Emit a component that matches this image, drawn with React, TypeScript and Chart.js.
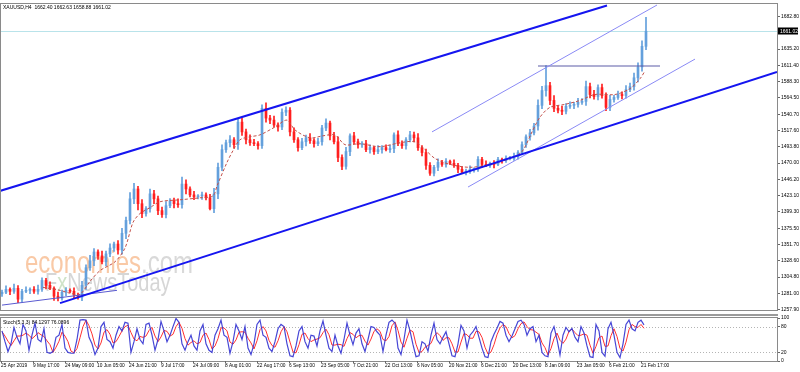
import React, { useEffect, useRef } from "react";
import { Chart, registerables } from "chart.js";
Chart.register(...registerables);

// ---------- DATA ----------
const symbolTitle = "XAUUSD,H4";
const lastOHLC = [1662.4, 1662.63, 1658.88, 1661.02];
const bidPrice = 1661.02;
const stochTitle = "Stoch(5,3,3)";
const stochLast = [84.1297, 76.0896];

const firstOpen = 1280.5;
const closes = [
  1282.7, 1287.0, 1284.1, 1288.4, 1272.7, 1284.1, 1285.5, 1287.0, 1284.1, 1287.0,
  1299.8, 1292.7, 1288.4, 1277.0, 1274.1, 1282.7, 1285.5, 1284.1, 1278.4, 1275.6,
  1292.7, 1318.3, 1328.3, 1341.1, 1335.4, 1326.9, 1338.3, 1346.8, 1352.6, 1344.0,
  1368.2, 1386.8, 1418.1, 1432.4, 1411.0, 1396.8, 1403.9, 1425.3, 1418.1, 1401.0,
  1395.3, 1408.2, 1415.3, 1411.0, 1409.6, 1439.5, 1432.4, 1423.8, 1421.0, 1422.4,
  1423.8, 1419.6, 1403.9, 1425.3, 1463.8, 1489.4, 1499.4, 1503.7, 1496.6, 1529.3,
  1515.1, 1503.7, 1499.4, 1498.0, 1495.1, 1549.3, 1535.1, 1532.2, 1525.1, 1522.2,
  1543.6, 1546.5, 1515.1, 1503.7, 1492.3, 1500.8, 1506.5, 1502.3, 1498.0, 1500.8,
  1520.8, 1527.9, 1509.4, 1500.8, 1478.0, 1465.2, 1486.6, 1509.4, 1500.8, 1496.6,
  1498.0, 1489.4, 1492.3, 1486.6, 1489.4, 1492.3, 1489.4, 1490.9, 1510.8, 1498.0,
  1495.1, 1503.7, 1510.8, 1506.5, 1492.3, 1485.2, 1466.6, 1455.2, 1463.8, 1470.9,
  1468.0, 1472.3, 1469.5, 1466.6, 1460.9, 1456.6, 1458.1, 1460.9, 1460.9, 1475.2,
  1468.0, 1466.6, 1469.5, 1468.0, 1475.2, 1473.7, 1476.6, 1476.6, 1479.4, 1485.2,
  1496.6, 1508.0, 1513.7, 1523.6, 1553.6, 1575.0, 1582.1, 1560.7, 1549.3, 1546.5,
  1545.0, 1552.2, 1553.6, 1555.0, 1557.9, 1559.3, 1580.7, 1569.3, 1566.4, 1579.3,
  1567.8, 1550.7, 1562.1, 1565.0, 1569.3, 1567.8, 1576.4, 1580.7, 1593.5, 1609.2,
  1639.1, 1661.0,
];
// wick lengths above the body top / below the body bottom (USD)
const upperWick = [
  3, 5, 2, 6, 4, 3, 5, 2, 4, 6,
  4, 3, 5, 2, 6, 3, 4, 2, 5, 3,
  6, 4, 8, 5, 3, 7, 4, 6, 3, 5,
  7, 5, 9, 8, 4, 6, 3, 7, 5, 4,
  5, 6, 3, 4, 7, 10, 6, 3, 5, 2,
  4, 3, 5, 8, 6, 7, 4, 6, 3, 4,
  6, 4, 7, 5, 3, 5, 8, 4, 6, 3,
  5, 5, 4, 6, 3, 5, 4, 6, 3, 5,
  4, 6, 3, 5, 7, 4, 6, 3, 5, 4,
  3, 5, 4, 2, 6, 3, 4, 5, 3, 6,
  4, 3, 5, 4, 6, 3, 5, 4, 3, 5,
  3, 4, 2, 5, 3, 4, 3, 5, 2, 4,
  3, 5, 2, 4, 3, 2, 4, 3, 5, 3,
  4, 3, 5, 4, 8, 6, 29, 5, 7, 4,
  6, 4, 5, 3, 6, 4, 8, 5, 6, 4,
  5, 4, 6, 3, 5, 4, 6, 5, 7, 6,
  8, 20,
];
const lowerWick = [
  4, 2, 5, 3, 5, 4, 2, 5, 3, 4,
  3, 5, 2, 6, 4, 3, 5, 2, 4, 3,
  5, 6, 4, 7, 5, 3, 6, 4, 5, 6,
  6, 8, 5, 7, 9, 6, 4, 5, 7, 6,
  4, 5, 3, 6, 4, 5, 7, 3, 4, 3,
  5, 3, 2, 6, 7, 5, 4, 6, 5, 7,
  5, 6, 4, 3, 5, 4, 6, 5, 3, 6,
  4, 5, 6, 4, 5, 3, 6, 4, 5, 3,
  5, 4, 6, 3, 6, 5, 4, 6, 3, 5,
  4, 3, 5, 4, 3, 5, 2, 4, 6, 3,
  4, 5, 3, 6, 4, 5, 6, 3, 4, 5,
  3, 4, 2, 3, 5, 2, 4, 3, 4, 3,
  4, 2, 3, 5, 2, 4, 3, 2, 3, 4,
  3, 4, 5, 3, 6, 5, 8, 6, 5, 4,
  5, 4, 3, 5, 4, 3, 6, 5, 4, 5,
  4, 5, 5, 4, 3, 5, 4, 3, 5, 6,
  6, 5,
];

const maIndex = [10.25, 14.5, 17, 19.5, 22, 24.5, 28.25, 30.75, 32.75, 34.5, 37, 39.5, 44.5, 49.5, 52.75,
  53.75, 56.25, 57.75, 59.5, 62, 64.5, 68.25, 71.25, 73.25, 77, 80.25, 83.25, 85.75, 89.5, 94.5,
  99.5, 103.25, 105.75, 108.25, 112, 117, 122, 127, 130, 132.5, 134.5, 137, 140.75, 144.5, 148.25,
  153.25, 157, 159.5, 160.75];
const maValue = [1289.8, 1285.5, 1281.3, 1279.8, 1298.4, 1314.1, 1326.9, 1346.8, 1383.9, 1396.8, 1405.3, 1413.9, 1416.7, 1419.6, 1422.4,
  1436.7, 1470.9, 1488.0, 1503.7, 1508.0, 1510.8, 1522.2, 1532.2, 1517.9, 1506.5, 1509.4, 1510.8, 1496.6, 1498.0, 1493.7,
  1499.4, 1500.8, 1489.4, 1476.6, 1468.0, 1463.8, 1468.0, 1476.6, 1486.6, 1515.1, 1536.5, 1550.7, 1555.0, 1560.7, 1569.3,
  1569.3, 1577.8, 1592.1, 1603.5];

const stochMain = [
  70, 45, 22, 40, 78, 55, 40, 85, 70, 25, 60, 88, 50, 45, 75, 20, 18, 22, 55, 60,
  85, 30, 20, 18, 18, 50, 95, 96, 95, 55, 40, 15, 30, 80, 90, 50, 45, 30, 60, 80,
  70, 90, 88, 20, 45, 75, 50, 40, 85, 88, 60, 25, 50, 92, 70, 45, 60, 80, 99, 90,
  40, 25, 45, 60, 35, 25, 70, 85, 40, 25, 20, 60, 75, 95, 60, 55, 18, 45, 85, 70,
  50, 80, 30, 15, 40, 85, 95, 60, 55, 30, 22, 45, 75, 85, 80, 40, 12, 10, 35, 70,
  80, 45, 30, 60, 58, 35, 70, 93, 60, 30, 22, 60, 35, 18, 50, 88, 60, 38, 65, 75,
  40, 22, 50, 80, 78, 68, 60, 22, 60, 90, 95, 88, 30, 15, 50, 95, 70, 38, 10, 12,
  45, 40, 23, 60, 88, 50, 40, 55, 68, 40, 12, 10, 40, 83, 70, 30, 60, 68, 80, 55,
  30, 10, 8, 45, 62, 76, 92, 88, 60, 45, 58, 75, 92, 95, 85, 60, 75, 80, 45, 60,
  20, 12, 10, 65, 80, 50, 14, 60, 78, 68, 76, 55, 45, 80, 65, 35, 10, 8, 85, 70,
  20, 11, 75, 90, 60, 20, 8, 40, 85, 95, 75, 70, 90, 95, 84,
];
const stochSignal = [
  68, 58, 46, 36, 47, 58, 58, 60, 65, 60, 52, 58, 66, 61, 57, 47, 38, 20, 32, 46,
  67, 58, 45, 23, 19, 29, 54, 80, 95, 82, 63, 37, 28, 42, 67, 73, 62, 42, 45, 57,
  70, 80, 83, 66, 51, 47, 57, 55, 58, 71, 78, 58, 45, 56, 71, 69, 58, 62, 80, 90,
  76, 52, 37, 43, 47, 40, 43, 60, 65, 50, 28, 35, 52, 77, 77, 70, 44, 39, 49, 67,
  68, 67, 53, 42, 28, 47, 73, 80, 70, 48, 36, 32, 47, 68, 80, 68, 44, 21, 19, 38,
  62, 65, 52, 45, 49, 51, 54, 66, 74, 61, 37, 37, 39, 38, 34, 52, 66, 62, 54, 59,
  60, 46, 37, 51, 69, 75, 69, 50, 47, 57, 82, 91, 71, 44, 32, 53, 72, 68, 39, 20,
  22, 32, 36, 41, 57, 66, 59, 48, 54, 54, 40, 21, 21, 44, 64, 61, 53, 53, 69, 68,
  55, 32, 16, 21, 38, 61, 77, 85, 80, 64, 54, 59, 75, 87, 91, 80, 73, 72, 67, 62,
  42, 31, 14, 29, 52, 65, 48, 41, 51, 69, 74, 66, 59, 60, 63, 60, 37, 18, 34, 54,
  58, 34, 35, 59, 75, 57, 29, 23, 44, 73, 85, 80, 78, 85, 76,
];
const stochBarsPerSample = 0.75; // stochastic sampled 3 bars per 4 candles

const priceTicks = [1257.9, 1281.0, 1304.8, 1328.6, 1351.7, 1375.5, 1399.3, 1423.1, 1446.2, 1470.0,
  1493.8, 1517.6, 1540.7, 1564.5, 1588.3, 1611.4, 1635.2, 1682.8];
const stochTicks = [0, 20, 80, 100];
const stochLevels = [20, 80];
const timeTickIndex = [0, 8, 16, 24, 32, 40, 48, 56, 64, 72, 80, 88, 96, 104, 112, 120, 128, 136, 144, 152, 160];
const timeTickLabels = ["25 Apr 2019", "9 May 17:00", "24 May 09:00", "10 Jun 05:00", "24 Jun 21:00", "9 Jul 17:00",
  "24 Jul 09:00", "8 Aug 01:00", "22 Aug 17:00", "6 Sep 13:00", "23 Sep 05:00", "7 Oct 21:00", "22 Oct 13:00",
  "6 Nov 05:00", "20 Nov 21:00", "6 Dec 21:00", "20 Dec 13:00", "8 Jan 09:00", "23 Jan 05:00", "6 Feb 21:00", "21 Feb 17:00"];

// drawn objects (bar index, price)
const upperChannelIdx = [-0.5, 151.25];
const upperChannelPrice = [1429.5, 1698.3];
const lowerChannelIdx = [14.5, 193.75];
const lowerChannelPrice = [1267.0, 1602.1];
const supportIdx = [0, 28.75];
const supportPrice = [1264.1, 1285.5];
const risingTopIdx = [107.5, 163.75];
const risingTopPrice = [1515.1, 1699.0];
const risingBottomIdx = [116.5, 173.25];
const risingBottomPrice = [1435.2, 1620.6];
const resistanceIdx = [134, 164.5];
const resistancePrice = [1610.6, 1610.6];

// ---------- STYLE ----------
const X_MIN = -0.25;
const X_MAX = 193.75;
const Y_MIN = 1257.0;
const Y_MAX = 1700.45;
const UP = "#64a0dc";
const DOWN = "#ff1f1f";
const FONT = "Liberation Sans";
const FS = 5;
const FS_X = 4.8;
const AXIS_W = 23;

const opens = closes.map((c, i) => (i === 0 ? firstOpen : closes[i - 1]));

function seg(xs: number[], ys: number[], color: string, width: number) {
  return {
    type: "line" as const,
    data: xs.map((x, i) => ({ x, y: ys[i] })),
    borderColor: color,
    borderWidth: width,
    pointRadius: 0,
    fill: false,
    order: 0,
    tension: 0,
  };
}

export default function App() {
  const priceRef = useRef<HTMLCanvasElement | null>(null);
  const stochRef = useRef<HTMLCanvasElement | null>(null);

  useEffect(() => {
    const pc = priceRef.current!;
    const sc = stochRef.current!;

    const pricePlugin = {
      id: "mtPrice",
      beforeDatasetsDraw(chart: any) {
        const { ctx, chartArea: a, scales } = chart;
        const y = scales.y;
        ctx.save();
        ctx.beginPath();
        ctx.rect(a.left, a.top, a.right - a.left, a.bottom - a.top);
        ctx.clip();
        // watermark
        ctx.textBaseline = "alphabetic";
        ctx.save();
        ctx.translate(25, 273);
        ctx.scale(0.75, 1);
        ctx.font = `32px ${FONT}`;
        ctx.fillStyle = "#f9c9a6";
        ctx.fillText("economies", 0, 0);
        const w = ctx.measureText("economies").width;
        ctx.fillStyle = "#d9d9d9";
        ctx.fillText(".com", w, 0);
        ctx.restore();
        ctx.save();
        ctx.translate(45, 291);
        ctx.scale(0.8, 1);
        ctx.font = `25px ${FONT}`;
        ctx.fillStyle = "#d6d6d6";
        ctx.fillText("F", 0, 0);
        const fw = ctx.measureText("F").width;
        ctx.fillStyle = "#cfe3c8";
        ctx.fillText("x", fw, 0);
        const xw = ctx.measureText("x").width;
        ctx.fillStyle = "#d6d6d6";
        ctx.fillText("NewsToday", fw + xw, 0);
        ctx.restore();
        // bid line
        const yy = Math.round(y.getPixelForValue(bidPrice)) + 0.5;
        ctx.strokeStyle = "#b9e3ea";
        ctx.lineWidth = 1;
        ctx.beginPath();
        ctx.moveTo(a.left, yy);
        ctx.lineTo(a.right, yy);
        ctx.stroke();
        ctx.restore();
      },
      afterDraw(chart: any) {
        const { ctx, chartArea: a, scales } = chart;
        const y = scales.y;
        ctx.save();
        ctx.strokeStyle = "#8a8a8a";
        ctx.lineWidth = 1;
        ctx.strokeRect(a.left - 0.5, a.top - 0.5, a.right - a.left + 1, a.bottom - a.top + 1);
        ctx.fillStyle = "#000";
        ctx.font = `${FS}px ${FONT}`;
        ctx.textBaseline = "middle";
        ctx.textAlign = "left";
        ctx.fillText(`${symbolTitle}  ${lastOHLC.map((v) => v.toFixed(2)).join(" ")}`, 3, 8);
        const by = y.getPixelForValue(bidPrice);
        ctx.fillStyle = "#000";
        ctx.fillRect(a.right + 1, Math.round(by) - 3.5, 20, 7);
        ctx.fillStyle = "#fff";
        ctx.fillText(bidPrice.toFixed(2), a.right + 3, by);
        ctx.restore();
      },
    };

    const priceChart = new Chart(pc, {
      type: "bar",
      data: {
        datasets: [
          seg(upperChannelIdx, upperChannelPrice, "#1515f0", 2),
          seg(lowerChannelIdx, lowerChannelPrice, "#1515f0", 2),
          seg(supportIdx, supportPrice, "#5a5ad0", 1),
          seg(risingTopIdx, risingTopPrice, "#8a8af5", 1),
          seg(risingBottomIdx, risingBottomPrice, "#8a8af5", 1),
          seg(resistanceIdx, resistancePrice, "#5c5ca8", 1.2),
          {
            type: "line" as const,
            data: maIndex.map((x, i) => ({ x, y: maValue[i] })),
            borderColor: "#c2504a",
            borderWidth: 1,
            borderDash: [3, 2],
            pointRadius: 0,
            fill: false,
            order: 1,
            tension: 0.3,
          },
          {
            type: "bar" as const,
            data: closes.map((c, i) => ({
              x: i,
              y: [Math.min(opens[i], c) - lowerWick[i], Math.max(opens[i], c) + upperWick[i]],
            })),
            backgroundColor: closes.map((c, i) => (c >= opens[i] ? UP : DOWN)),
            barThickness: 1,
            grouped: false,
            order: 3,
          } as any,
          {
            type: "bar" as const,
            data: closes.map((c, i) => ({ x: i, y: [opens[i], c] })),
            backgroundColor: closes.map((c, i) => (c >= opens[i] ? UP : DOWN)),
            barThickness: 2,
            minBarLength: 1,
            grouped: false,
            order: 2,
          } as any,
        ],
      },
      options: {
        responsive: false,
        maintainAspectRatio: false,
        animation: false,
        events: [],
        layout: { padding: { left: 1, right: 0, top: 2, bottom: 1 } },
        plugins: { legend: { display: false }, tooltip: { enabled: false }, title: { display: false } },
        scales: {
          x: { type: "linear", min: X_MIN, max: X_MAX, display: false, offset: false },
          y: {
            position: "right",
            min: Y_MIN,
            max: Y_MAX,
            afterFit: (s: any) => {
              s.width = AXIS_W;
            },
            afterBuildTicks: (s: any) => {
              s.ticks = priceTicks.map((v) => ({ value: v }));
            },
            ticks: {
              autoSkip: false,
              padding: 1,
              color: "#000",
              font: { size: FS, family: FONT },
              callback: (v: any) => Number(v).toFixed(2),
            },
            grid: { drawOnChartArea: false, tickLength: 3, color: "#666" },
            border: { color: "#8a8a8a" },
          },
        },
      },
      plugins: [pricePlugin],
    } as any);

    const stochPlugin = {
      id: "mtStoch",
      beforeDatasetsDraw(chart: any) {
        const { ctx, chartArea: a, scales } = chart;
        ctx.save();
        ctx.strokeStyle = "#b4b4b4";
        ctx.lineWidth = 1;
        ctx.setLineDash([1, 2]);
        stochLevels.forEach((lv) => {
          const yy = Math.round(scales.y.getPixelForValue(lv)) + 0.5;
          ctx.beginPath();
          ctx.moveTo(a.left, yy);
          ctx.lineTo(a.right, yy);
          ctx.stroke();
        });
        ctx.restore();
      },
      afterDraw(chart: any) {
        const { ctx, chartArea: a, scales } = chart;
        ctx.save();
        ctx.fillStyle = "#9a9a9a";
        ctx.fillRect(0, 0, a.right + 1, 2);
        ctx.strokeStyle = "#8a8a8a";
        ctx.lineWidth = 1;
        ctx.strokeRect(a.left - 0.5, a.top - 0.5, a.right - a.left + 1, a.bottom - a.top + 1);
        ctx.fillStyle = "#000";
        ctx.font = `${FS}px ${FONT}`;
        ctx.textBaseline = "middle";
        ctx.textAlign = "left";
        ctx.fillText(`${stochTitle} ${stochLast.map((v) => v.toFixed(4)).join(" ")}`, 3, a.top + 5);
        ctx.font = `${FS_X}px ${FONT}`;
        ctx.strokeStyle = "#666";
        timeTickIndex.forEach((idx, k) => {
          const px = scales.x.getPixelForValue(idx);
          ctx.beginPath();
          ctx.moveTo(Math.round(px) - 0.5, a.bottom);
          ctx.lineTo(Math.round(px) - 0.5, a.bottom + 2);
          ctx.stroke();
          ctx.fillText(timeTickLabels[k], px - 1, a.bottom + 5);
        });
        ctx.restore();
      },
    };

    const stochChart = new Chart(sc, {
      type: "line",
      data: {
        datasets: [
          {
            data: stochMain.map((v, i) => ({ x: i * stochBarsPerSample, y: v })),
            borderColor: "rgba(50,50,210,0.9)",
            borderWidth: 1.2,
            pointRadius: 0,
            fill: false,
            tension: 0,
            order: 0,
          },
          {
            data: stochSignal.map((v, i) => ({ x: i * stochBarsPerSample, y: v })),
            borderColor: "#ff3030",
            borderWidth: 1,
            pointRadius: 0,
            fill: false,
            tension: 0,
            order: 1,
          },
        ],
      },
      options: {
        responsive: false,
        maintainAspectRatio: false,
        animation: false,
        events: [],
        layout: { padding: { left: 1, right: 0, top: 2, bottom: 11 } },
        plugins: { legend: { display: false }, tooltip: { enabled: false }, title: { display: false } },
        scales: {
          x: { type: "linear", min: X_MIN, max: X_MAX, display: false, offset: false },
          y: {
            position: "right",
            min: 0,
            max: 100,
            afterFit: (s: any) => {
              s.width = AXIS_W;
            },
            afterBuildTicks: (s: any) => {
              s.ticks = stochTicks.map((v) => ({ value: v }));
            },
            ticks: { autoSkip: false, padding: 1, color: "#000", font: { size: FS, family: FONT } },
            grid: { drawOnChartArea: false, tickLength: 3, color: "#666" },
            border: { color: "#8a8a8a" },
          },
        },
      },
      plugins: [stochPlugin],
    } as any);

    return () => {
      priceChart.destroy();
      stochChart.destroy();
    };
  }, []);

  return (
    <div style={{ position: "fixed", left: 0, top: 0, width: 800, height: 372, background: "#fff" }}>
      <canvas ref={priceRef} width={800} height={314} style={{ position: "absolute", left: 0, top: 0, width: 800, height: 314 }} />
      <canvas ref={stochRef} width={800} height={58} style={{ position: "absolute", left: 0, top: 314, width: 800, height: 58 }} />
    </div>
  );
}
